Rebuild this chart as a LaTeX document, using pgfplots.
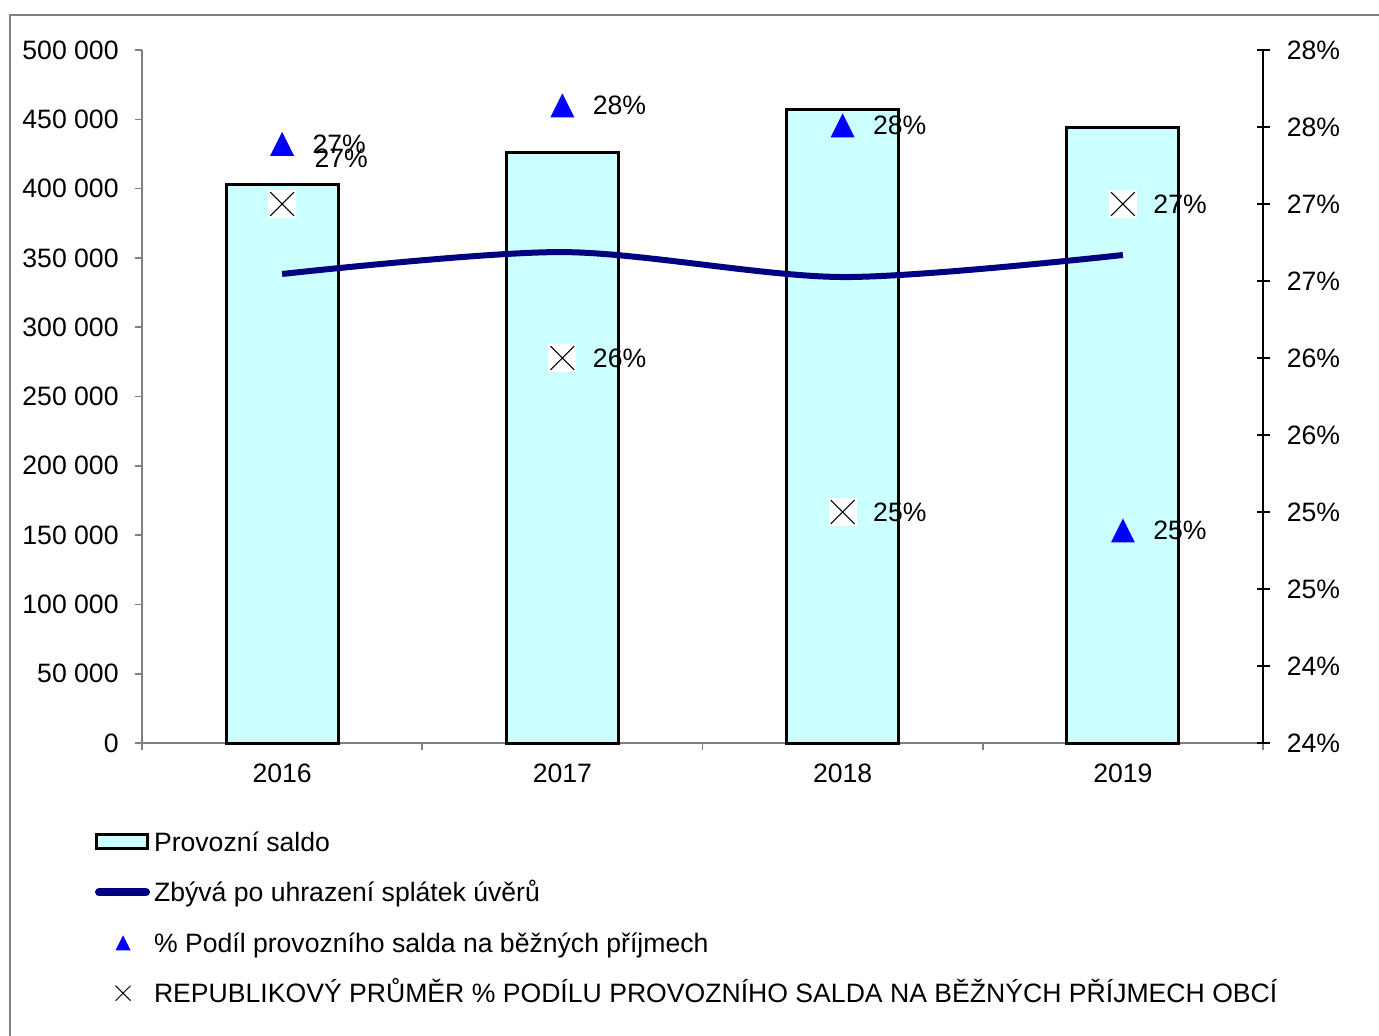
\documentclass[border=0pt]{standalone}
\usepackage{fontspec}
\setmainfont{Liberation Sans}
\usepackage{pgfplots}
\pgfplotsset{compat=1.18}
\definecolor{barfill}{HTML}{CCFFFF}
\definecolor{navyline}{HTML}{000080}
\definecolor{triblue}{HTML}{0000FF}
\definecolor{axgray}{HTML}{808080}

\pgfdeclareplotmark{xltri}{%
  \pgfpathmoveto{\pgfqpoint{0pt}{\pgfplotmarksize}}%
  \pgfpathlineto{\pgfqpoint{-\pgfplotmarksize}{-\pgfplotmarksize}}%
  \pgfpathlineto{\pgfqpoint{\pgfplotmarksize}{-\pgfplotmarksize}}%
  \pgfpathclose
  \pgfusepathqfill}
\pgfdeclareplotmark{xlcross}{%
  \pgfpathrectangle{\pgfqpoint{-\pgfplotmarksize}{-\pgfplotmarksize}}{\pgfqpoint{2\pgfplotmarksize}{2\pgfplotmarksize}}%
  \pgfsetfillcolor{white}%
  \pgfusepathqfill
  \pgfpathmoveto{\pgfqpoint{-0.85\pgfplotmarksize}{-0.85\pgfplotmarksize}}%
  \pgfpathlineto{\pgfqpoint{0.85\pgfplotmarksize}{0.85\pgfplotmarksize}}%
  \pgfpathmoveto{\pgfqpoint{-0.85\pgfplotmarksize}{0.85\pgfplotmarksize}}%
  \pgfpathlineto{\pgfqpoint{0.85\pgfplotmarksize}{-0.85\pgfplotmarksize}}%
  \pgfusepathqstroke}

\pgfplotsset{
  legbar/.style={legend image code/.code={\draw[##1] (0.75pt,-3.5pt) rectangle (26.25pt,3.5pt);}},
  legline/.style={legend image code/.code={\draw[##1] (2pt,0pt) -- (25.5pt,0pt);}},
  legmark/.style={legend image code/.code={\node[draw=none, fill=none, inner sep=0pt, minimum width=27pt, minimum height=1pt, anchor=west] at (0pt,0pt) {}; \draw[##1, only marks] plot coordinates {(14pt,0pt)};}},
}

\begin{document}
\begin{tikzpicture}[font=\fontsize{13.3}{16}\selectfont]
\useasboundingbox (0,0) rectangle (689.5pt,517.5pt);
\draw[axgray, line width=0.8pt] (5pt,-2pt) -- (5pt,510pt) -- (692pt,510pt);
\begin{axis}[
  scale only axis, width=560.5pt, height=346.5pt,
  at={(71pt,146pt)}, anchor=south west,
  xmin=-0.5, xmax=3.5, ymin=0, ymax=500,
  axis x line*=bottom, axis y line*=left,
  x axis line style={-, draw=axgray, line width=0.8pt},
  y axis line style={-, draw=axgray, line width=0.8pt},
  tick align=outside, major tick length=3.5pt,
  tick style={axgray, line width=0.8pt},
  xtick={-0.5,0.5,1.5,2.5,3.5}, xticklabels={,,,,},
  extra x ticks={0,1,2,3}, extra x tick labels={2016,2017,2018,2019},
  extra x tick style={major tick length=0pt},
  xticklabel shift=10.5pt,
  ytick={0,50,100,150,200,250,300,350,400,450,500},
  yticklabels={0,50 000,100 000,150 000,200 000,250 000,300 000,350 000,400 000,450 000,500 000},
  every tick label/.append style={inner sep=0pt, text=black},
  yticklabel shift=8pt,
  clip=false,
]
\addplot[ybar, bar width=56pt, fill=barfill, draw=black, line width=1.5pt] coordinates {(0,402.6) (1,426.4) (2,457.4) (3,444.4)};
\addplot[navyline, line width=3pt, smooth, mark=none] coordinates {(0,338.4) (1,354.2) (2,336.2) (3,352.1)};
\end{axis}
\begin{axis}[
  scale only axis, width=560.5pt, height=346.5pt,
  at={(71pt,146pt)}, anchor=south west,
  xmin=-0.5, xmax=3.5, ymin=24, ymax=28.5,
  axis x line=none, axis y line*=right,
  y axis line style={-, draw=black, line width=0.8pt},
  tick align=center, major tick length=6.5pt,
  tick style={black, line width=0.8pt},
  ytick={24,24.5,25,25.5,26,26.5,27,27.5,28,28.5},
  yticklabels={24\%,24\%,25\%,25\%,26\%,26\%,27\%,27\%,28\%,28\%},
  every tick label/.append style={inner sep=0pt, text=black},
  yticklabel shift=8.5pt,
  clip=false,
  legend cell align=left,
  legend style={draw=none, fill=none, inner sep=0pt, outer sep=0pt,
    at={(-0.0419,-0.1222)}, anchor=north west, row sep=10.9pt,
    nodes={inner sep=0pt, text height=11.8pt, text depth=2.5pt},
    /tikz/column 1/.style={column sep=2pt}},
]
\addlegendimage{fill=barfill, draw=black, line width=1.5pt, legbar}
\addlegendentry{Provozní saldo}
\addlegendimage{navyline, line width=4pt, line cap=round, legline}
\addlegendentry{Zbývá po uhrazení splátek úvěrů}
\addlegendimage{mark=xltri, mark size=3.75pt, triblue, legmark}
\addlegendentry{\% Podíl provozního salda na běžných příjmech}
\addlegendimage{mark=x, mark size=5.3pt, black, line width=0.5pt, legmark}
\addlegendentry{REPUBLIKOVÝ PRŮMĚR \% PODÍLU PROVOZNÍHO SALDA NA BĚŽNÝCH PŘÍJMECH OBCÍ}

\addplot[forget plot, only marks, mark=xlcross, mark size=7pt, black, line width=0.6pt,
  nodes near coords, point meta=explicit symbolic,
  every node near coord/.append style={anchor=west, xshift=15pt, inner sep=0pt, text=black}]
  coordinates {(0,27.5)[{}] (1,26.5)[26\%] (2,25.5)[25\%] (3,27.5)[27\%]};
\addplot[forget plot, only marks, mark=xltri, mark size=6pt, triblue,
  nodes near coords, point meta=explicit symbolic,
  every node near coord/.append style={anchor=west, xshift=15pt, inner sep=0pt, text=black}]
  coordinates {(0,27.89)[27\%] (1,28.14)[28\%] (2,28.01)[28\%] (3,25.38)[25\%]};
\node[anchor=west, inner sep=0pt, xshift=16pt] at (axis cs:0,27.80) {27\%};
\end{axis}
\end{tikzpicture}
\end{document}
